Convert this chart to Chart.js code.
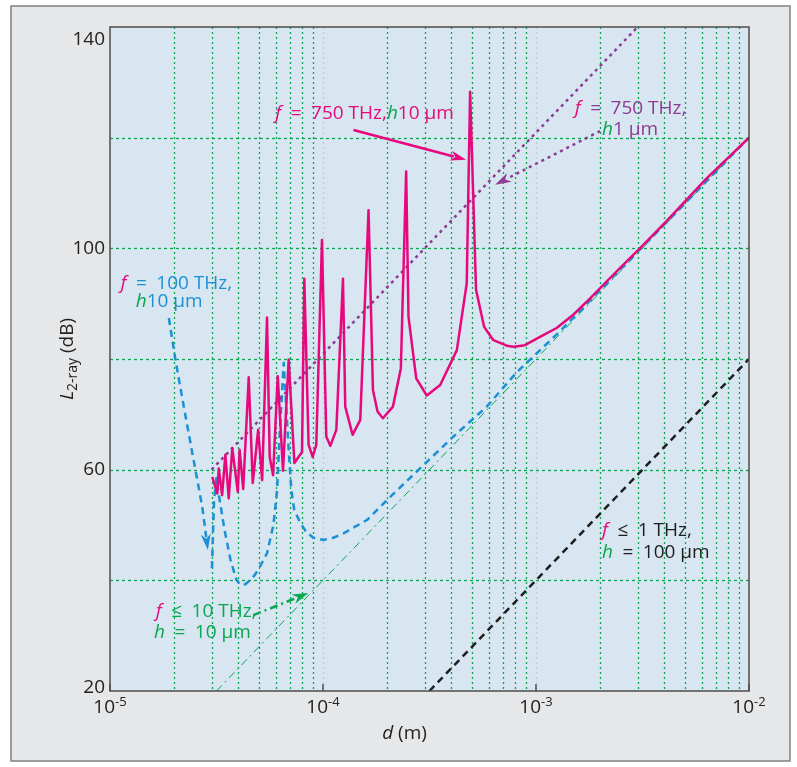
<!DOCTYPE html>
<html lang="en">
<head>
<meta charset="UTF-8">
<title>Two-ray path loss</title>
<script src="https://cdn.jsdelivr.net/npm/chart.js"></script>
<style>
  html, body { margin: 0; padding: 0; background: #fff; }
</style>
</head>
<body>
<canvas id="lossChart" width="797" height="767"></canvas>
<script>
// d in metres, L in dB
const d750h10 = [3.02e-5, 3.19e-5, 3.24e-5, 3.36e-5, 3.48e-5, 3.61e-5, 3.75e-5, 3.98e-5, 4.06e-5, 4.22e-5,
  4.48e-5, 4.68e-5, 4.96e-5, 5.18e-5, 5.46e-5, 5.62e-5, 5.83e-5, 6.13e-5, 6.49e-5, 6.90e-5,
  7.34e-5, 7.97e-5, 8.17e-5, 8.56e-5, 8.94e-5, 9.30e-5, 9.89e-5, 1.036e-4, 1.082e-4, 1.155e-4,
  1.241e-4, 1.272e-4, 1.377e-4, 1.496e-4, 1.636e-4, 1.716e-4, 1.803e-4, 1.911e-4, 2.13e-4, 2.32e-4,
  2.457e-4, 2.52e-4, 2.74e-4, 3.07e-4, 3.55e-4, 4.25e-4, 4.73e-4, 4.905e-4, 5.23e-4, 5.71e-4,
  6.31e-4, 7.29e-4, 7.83e-4, 8.88e-4, 1.044e-3, 1.25e-3, 1.496e-3, 1.791e-3, 2.145e-3, 2.566e-3,
  3.074e-3, 4.10e-3, 6.31e-3, 1e-2];
const L750h10 = [58.7, 55.7, 60.2, 55.4, 62.7, 54.8, 63.9, 56.0, 63.6, 56.5,
  76.7, 57.6, 67.2, 58.1, 87.5, 62.3, 59.0, 76.9, 59.8, 79.9,
  61.2, 63.2, 94.5, 64.5, 62.3, 64.5, 101.5, 66.0, 64.3, 67.2,
  94.5, 71.4, 66.3, 69.0, 106.9, 74.4, 70.5, 69.3, 71.4, 78.3,
  113.9, 87.6, 76.5, 73.4, 75.3, 81.6, 93.7, 128.3, 92.5, 85.8,
  83.4, 82.4, 82.2, 82.5, 84.0, 85.6, 88.0, 90.9, 94.0, 97.0,
  100.0, 104.9, 112.6, 120.0];

const d100h10 = [3.01e-5, 3.08e-5, 3.16e-5, 3.26e-5, 3.45e-5, 3.68e-5, 3.92e-5, 4.10e-5, 4.32e-5, 4.66e-5,
  4.97e-5, 5.46e-5, 5.85e-5, 6.09e-5, 6.24e-5, 6.41e-5, 6.54e-5, 6.69e-5, 6.90e-5, 7.10e-5,
  7.33e-5, 7.83e-5, 8.35e-5, 9.01e-5, 1.003e-4, 1.117e-4, 1.249e-4, 1.608e-4, 2.07e-4, 2.96e-4,
  4.10e-4, 5.87e-4, 8.12e-4, 1.296e-3, 2e-3, 3e-3, 5e-3, 1e-2];
const L100h10 = [42.2, 54.5, 58.5, 54.9, 49.1, 43.7, 40.1, 39.2, 39.3, 40.4,
  41.9, 44.9, 50.0, 56.3, 65.4, 73.5, 79.3, 72.6, 63.6, 56.3,
  52.7, 50.4, 48.7, 47.7, 47.3, 47.7, 48.5, 50.9, 55.1, 60.8,
  66.0, 71.4, 77.6, 85.0, 92.4, 99.4, 108.1, 120.0];

const d750h1 = [3e-5, 3e-3];
const L750h1 = [60, 140];
const d10h10 = [3.16e-5, 1e-2];
const L10h10 = [20, 120];
const d1h100 = [3.16e-4, 1e-2];
const L1h100 = [20, 80];

const xTicks = [1e-5, 1e-4, 1e-3, 1e-2];
const xTickExp = ['-5', '-4', '-3', '-2'];
const yTicks = [20, 60, 100, 140];
const yGrid = [40, 60, 80, 100, 120];

const MAGENTA = '#e6097d';
const BLUE = '#1c90d4';
const PURPLE = '#8e3b95';
const GREEN = '#0aa650';
const BLACK = '#1e1e1e';
const FONT = '"Open Sans", "Noto Sans", sans-serif';
const EQ = '\u2002=\u2002';
const LE = '\u2002\u2264\u2002';

function pts(xs, ys) { return xs.map((x, i) => ({ x: x, y: ys[i] })); }

// annotation labels: anchor in data space, left / middle aligned
const labels = [
  { d: 5.97e-5, L: 124.3, parts: [['f', MAGENTA, 1], [EQ + '750 THz,', MAGENTA], ['h', GREEN, 1], ['10 \u03bcm', MAGENTA]] },
  { d: 1.52e-3, L: 125.2, parts: [['f', MAGENTA, 1], [EQ + '750 THz,', PURPLE]] },
  { d: 2.04e-3, L: 121.4, parts: [['h', GREEN, 1], ['1 \u03bcm', PURPLE]] },
  { d: 1.12e-5, L: 93.6, parts: [['f', MAGENTA, 1], [EQ + '100 THz,', BLUE]] },
  { d: 1.32e-5, L: 90.4, parts: [['h', GREEN, 1], ['10 \u03bcm', BLUE]] },
  { d: 1.64e-5, L: 34.3, parts: [['f', MAGENTA, 1], [LE + '10 THz,', GREEN]] },
  { d: 1.61e-5, L: 30.5, parts: [['h', GREEN, 1], [EQ + '10 \u03bcm', GREEN]] },
  { d: 2.04e-3, L: 48.9, parts: [['f', MAGENTA, 1], [LE + '1 THz,', BLACK]] },
  { d: 2.04e-3, L: 45.1, parts: [['h', GREEN, 1], [EQ + '100 \u03bcm', BLACK]] }
];

// arrows: polyline in data space, head at the last point
const arrows = [
  { path: [[1.39e-4, 121.4], [4.70e-4, 116.0]], color: MAGENTA, width: 2.5, dash: [] },
  { path: [[2.0e-3, 121.2], [6.43e-4, 111.5]], color: PURPLE, width: 2.5, dash: [3, 4] },
  { path: [[1.89e-5, 87.4], [2.03e-5, 79.8], [2.22e-5, 71.4], [2.47e-5, 61.7], [2.71e-5, 53.3], [2.88e-5, 45.5]], color: BLUE, width: 2.5, dash: [7, 5] },
  { path: [[4.71e-5, 33.7], [8.53e-5, 37.7]], color: GREEN, width: 2.5, dash: [8, 4, 2, 4] }
];

function richText(ctx, x, y, parts, size) {
  let cx = x;
  parts.forEach(p => {
    ctx.font = (p[2] ? 'italic ' : '') + size + 'px ' + FONT;
    ctx.fillStyle = p[1];
    ctx.fillText(p[0], cx, y);
    cx += ctx.measureText(p[0]).width;
  });
}

function drawArrow(ctx, xs, ys, a) {
  const p = a.path.map(q => [xs.getPixelForValue(q[0]), ys.getPixelForValue(q[1])]);
  ctx.save();
  ctx.strokeStyle = a.color;
  ctx.fillStyle = a.color;
  ctx.lineWidth = a.width;
  ctx.setLineDash(a.dash);
  const n = p.length;
  const ang = Math.atan2(p[n - 1][1] - p[n - 2][1], p[n - 1][0] - p[n - 2][0]);
  const head = 16, half = 5;
  ctx.beginPath();
  ctx.moveTo(p[0][0], p[0][1]);
  for (let i = 1; i < n - 1; i++) ctx.lineTo(p[i][0], p[i][1]);
  ctx.lineTo(p[n - 1][0] - Math.cos(ang) * head * 0.8, p[n - 1][1] - Math.sin(ang) * head * 0.8);
  ctx.stroke();
  ctx.setLineDash([]);
  ctx.beginPath();
  ctx.moveTo(p[n - 1][0], p[n - 1][1]);
  ctx.lineTo(p[n - 1][0] - Math.cos(ang) * head + Math.sin(ang) * half, p[n - 1][1] - Math.sin(ang) * head - Math.cos(ang) * half);
  ctx.lineTo(p[n - 1][0] - Math.cos(ang) * head * 0.7, p[n - 1][1] - Math.sin(ang) * head * 0.7);
  ctx.lineTo(p[n - 1][0] - Math.cos(ang) * head - Math.sin(ang) * half, p[n - 1][1] - Math.sin(ang) * head + Math.cos(ang) * half);
  ctx.closePath();
  ctx.fill();
  ctx.restore();
}

const framePlugin = {
  id: 'frame',
  beforeDraw(chart) {
    const ctx = chart.ctx;
    const a = chart.chartArea;
    const xs = chart.scales.x, ys = chart.scales.y;
    ctx.save();
    // grey panel
    ctx.fillStyle = '#e6e7e9';
    ctx.fillRect(11, 6, 779, 755);
    ctx.strokeStyle = '#808080';
    ctx.lineWidth = 1.5;
    ctx.strokeRect(11, 6, 779, 755);
    // plot background
    ctx.fillStyle = '#d7e6f0';
    ctx.fillRect(a.left, a.top, a.right - a.left, a.bottom - a.top);
    // vertical grid
    ctx.lineWidth = 1.3;
    ctx.setLineDash([2, 3]);
    for (let e = -5; e <= -3; e++) {
      for (let m = 1; m <= 9; m++) {
        if (m === 1 && e === -5) continue;
        const px = Math.round(xs.getPixelForValue(m * Math.pow(10, e))) + 0.5;
        ctx.strokeStyle = m === 1 ? '#c4cbd2' : GREEN;
        ctx.beginPath();
        ctx.moveTo(px, a.top);
        ctx.lineTo(px, a.bottom);
        ctx.stroke();
      }
    }
    // horizontal grid
    ctx.setLineDash([3, 3]);
    ctx.strokeStyle = GREEN;
    yGrid.forEach(v => {
      const py = Math.round(ys.getPixelForValue(v)) + 0.5;
      ctx.beginPath();
      ctx.moveTo(a.left, py);
      ctx.lineTo(a.right, py);
      ctx.stroke();
    });
    ctx.restore();
  },
  afterDatasetsDraw(chart) {
    const ctx = chart.ctx;
    const a = chart.chartArea;
    const xs = chart.scales.x, ys = chart.scales.y;
    ctx.save();
    arrows.forEach(ar => drawArrow(ctx, xs, ys, ar));
    ctx.textBaseline = 'middle';
    ctx.textAlign = 'left';
    labels.forEach(l => richText(ctx, xs.getPixelForValue(l.d), ys.getPixelForValue(l.L), l.parts, 19));

    // axis box
    ctx.strokeStyle = '#4d4d4d';
    ctx.lineWidth = 1.5;
    ctx.strokeRect(a.left, a.top, a.right - a.left, a.bottom - a.top);
    // decade tick marks
    xTicks.forEach(v => {
      const px = xs.getPixelForValue(v);
      ctx.beginPath();
      ctx.moveTo(px, a.bottom);
      ctx.lineTo(px, a.bottom - 7);
      ctx.stroke();
    });

    // y tick labels
    ctx.fillStyle = '#222';
    ctx.font = '19px ' + FONT;
    ctx.textAlign = 'right';
    yTicks.forEach(v => {
      let py = ys.getPixelForValue(v);
      if (v === 140) py += 13;
      if (v === 20) py -= 3;
      ctx.fillText(String(v), a.left - 5, py);
    });

    // x tick labels: 10 with superscript exponent
    xTicks.forEach((v, i) => {
      const px = xs.getPixelForValue(v);
      ctx.font = '19px ' + FONT;
      const w1 = ctx.measureText('10').width;
      ctx.font = '13px ' + FONT;
      const w2 = ctx.measureText(xTickExp[i]).width;
      const x0 = px - (w1 + w2) / 2;
      ctx.textAlign = 'left';
      ctx.font = '19px ' + FONT;
      ctx.fillText('10', x0, a.bottom + 17);
      ctx.font = '13px ' + FONT;
      ctx.fillText(xTickExp[i], x0 + w1, a.bottom + 11);
    });

    // x title
    ctx.font = 'italic 19px ' + FONT;
    const wd = ctx.measureText('d').width;
    ctx.font = '19px ' + FONT;
    const wm = ctx.measureText(' (m)').width;
    const tx = (a.left + a.right) / 2 - (wd + wm) / 2 - 25;
    ctx.font = 'italic 19px ' + FONT;
    ctx.fillText('d', tx, a.bottom + 43);
    ctx.font = '19px ' + FONT;
    ctx.fillText(' (m)', tx + wd, a.bottom + 43);

    // y title, rotated, with subscript
    ctx.translate(68, (a.top + a.bottom) / 2);
    ctx.rotate(-Math.PI / 2);
    ctx.font = 'italic 19px ' + FONT;
    const wl = ctx.measureText('L').width;
    ctx.font = '14px ' + FONT;
    const ws = ctx.measureText('2-ray').width;
    ctx.font = '19px ' + FONT;
    const wu = ctx.measureText(' (dB)').width;
    let cx = -(wl + ws + wu) / 2;
    ctx.font = 'italic 19px ' + FONT;
    ctx.fillText('L', cx, 0);
    cx += wl;
    ctx.font = '14px ' + FONT;
    ctx.fillText('2-ray', cx, 5);
    cx += ws;
    ctx.font = '19px ' + FONT;
    ctx.fillText(' (dB)', cx, 0);
    ctx.restore();
  }
};

new Chart(document.getElementById('lossChart'), {
  type: 'line',
  data: {
    datasets: [
      { label: 'f = 750 THz, h 10 um', data: pts(d750h10, L750h10), borderColor: MAGENTA, borderWidth: 2.5 },
      { label: 'f = 750 THz, h 1 um', data: pts(d750h1, L750h1), borderColor: PURPLE, borderWidth: 2.5, borderDash: [3, 4] },
      { label: 'f = 100 THz, h 10 um', data: pts(d100h10, L100h10), borderColor: BLUE, borderWidth: 2.5, borderDash: [7, 5] },
      { label: 'f <= 10 THz, h = 10 um', data: pts(d10h10, L10h10), borderColor: GREEN, borderWidth: 1, borderDash: [8, 4, 2, 4] },
      { label: 'f <= 1 THz, h = 100 um', data: pts(d1h100, L1h100), borderColor: BLACK, borderWidth: 2.5, borderDash: [7, 5] }
    ]
  },
  options: {
    responsive: false,
    animation: false,
    events: [],
    layout: { padding: { left: 110, right: 48, top: 27, bottom: 76 } },
    elements: { point: { radius: 0 }, line: { tension: 0, borderJoinStyle: 'round', fill: false } },
    datasets: { line: { clip: 0 } },
    plugins: { legend: { display: false }, tooltip: { enabled: false } },
    scales: {
      x: { type: 'logarithmic', min: 1e-5, max: 1e-2, display: false },
      y: { type: 'linear', min: 20, max: 140, display: false }
    }
  },
  plugins: [framePlugin]
});
</script>
</body>
</html>
